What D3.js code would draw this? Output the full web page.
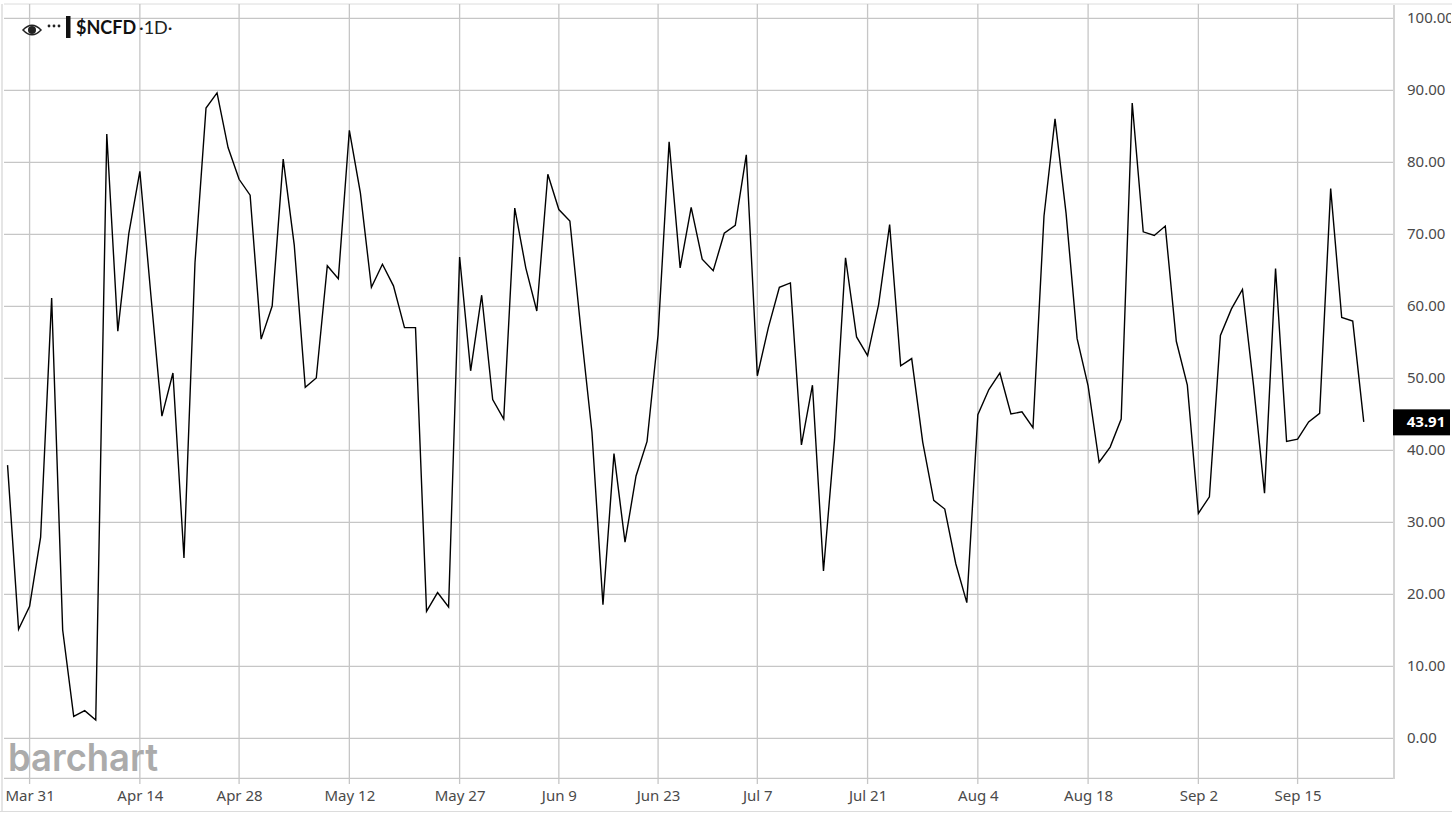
<!DOCTYPE html>
<html><head><meta charset="utf-8">
<script src="https://cdn.jsdelivr.net/npm/d3@7/dist/d3.min.js"></script>
<style>html,body{margin:0;padding:0;background:#fff;overflow:hidden}svg{display:block}</style>
</head><body><svg id="c" width="1456" height="814"></svg>
<script>
const seriesValues=[37.9,15.1,18.3,27.9,61.1,15,3,3.8,2.5,83.9,56.5,70.1,78.7,61.5,44.7,50.7,25,66,87.5,89.6,82,77.6,75.4,55.4,60,80.4,68.5,48.7,50,65.6,63.8,84.4,75.7,62.6,65.8,62.8,57,57,17.6,20.2,18.2,66.8,51,61.5,47,44.3,73.6,65.3,59.3,78.3,73.4,71.8,56.7,42.5,18.5,39.5,27.2,36.4,41.2,56,82.8,65.3,73.7,66.5,64.9,70.1,71.2,81,50.3,57,62.6,63.2,40.7,49,23.2,41.4,66.7,55.7,53.1,60.2,71.3,51.7,52.7,41.1,33,31.8,24.2,18.8,44.9,48.4,50.7,45,45.3,43.1,72.5,86,72.9,55.5,48.9,38.3,40.4,44.3,88.2,70.3,69.8,71.1,55.1,49,31.2,33.5,55.9,59.6,62.3,49,34,65.2,41.2,41.5,43.9,45.1,76.3,58.4,57.9,43.91];
const tickIndex=[2,12,21,31,41,50,59,68,78,88,98,108,117];
const tickLabels=["Mar 31","Apr 14","Apr 28","May 12","May 27","Jun 9","Jun 23","Jul 7","Jul 21","Aug 4","Aug 18","Sep 2","Sep 15"];
const yTicks=[0,10,20,30,40,50,60,70,80,90,100];
const lastValue=43.91, symbol="$NCFD", period="1D", watermark="barchart";

const svg=d3.select("#c");
const x=d3.scaleLinear().domain([2,117]).range([29.6,1297.6]);
const y=d3.scaleLinear().domain([0,100]).range([738,18]);
const gridC="#c6c6c6", axisFont="'Noto Sans','Open Sans',sans-serif", txt="#4a4a4a";
svg.append("defs").append("clipPath").attr("id","pageClip").append("rect").attr("x",0).attr("y",0).attr("width",1451).attr("height",814);

// page rules
[[4,1452,4,"#dcdcdc"],[0,1452,811.5,"#dcdcdc"]].forEach(d=>svg.append("line").attr("x1",d[0]).attr("x2",d[1]).attr("y1",d[2]).attr("y2",d[2]).attr("stroke",d[3]).attr("stroke-width",1));
svg.append("line").attr("x1",2).attr("x2",2).attr("y1",4).attr("y2",811).attr("stroke","#dcdcdc").attr("stroke-width",1.5);

// y labels
const yAxis=d3.axisRight(y).tickValues(yTicks).tickSize(0).tickPadding(13).tickFormat(d3.format(".2f"));
const gy=svg.append("g").attr("clip-path","url(#pageClip)").append("g").attr("transform","translate(1394,0)").call(yAxis);
gy.select(".domain").remove();
gy.selectAll("text").attr("font-family",axisFont).attr("font-size",15).attr("fill",txt);

// grid
svg.append("g").selectAll("line").data(yTicks).join("line")
 .attr("x1",4).attr("x2",1394).attr("y1",d=>y(d)+.3).attr("y2",d=>y(d)+.3).attr("stroke",gridC).attr("stroke-width",1.3);
svg.append("g").selectAll("line").data(tickIndex).join("line")
 .attr("x1",d=>x(d)).attr("x2",d=>x(d)).attr("y1",4).attr("y2",784).attr("stroke",gridC).attr("stroke-width",1.3);

// frame
svg.append("line").attr("x1",4).attr("x2",1394).attr("y1",778.3).attr("y2",778.3).attr("stroke",gridC).attr("stroke-width",1.3);
svg.append("line").attr("x1",1394).attr("x2",1394).attr("y1",5).attr("y2",779).attr("stroke","#d4d4d4").attr("stroke-width",2);

// x labels
const xAxis=d3.axisBottom(x).tickValues(tickIndex).tickSize(0).tickPadding(0).tickFormat((d,i)=>tickLabels[i]);
const gx=svg.append("g").attr("transform","translate(0,788)").call(xAxis);
gx.select(".domain").remove();
gx.selectAll("text").attr("font-family",axisFont).attr("font-size",15).attr("fill",txt).attr("y",2).attr("dy","0.71em");

// watermark
svg.append("text").attr("x",8).attr("y",771).text(watermark).attr("font-family","Inter,'Noto Sans',sans-serif")
 .attr("font-size",38).attr("font-weight",600).attr("fill","#ababab").attr("textLength",150).attr("lengthAdjust","spacingAndGlyphs");

// line
const line=d3.line().x((d,i)=>x(i)).y(d=>y(d));
svg.append("path").datum(seriesValues).attr("d",line).attr("fill","none").attr("stroke","#000").attr("stroke-width",1.4).attr("stroke-linejoin","miter");

// last value
const ly=y(lastValue);
svg.append("rect").attr("x",1393).attr("y",ly-12.5).attr("width",57).attr("height",26).attr("fill","#000");
svg.append("text").attr("x",1426).attr("y",ly+5.5).attr("text-anchor","middle").text(lastValue.toFixed(2))
 .attr("font-family",axisFont).attr("font-size",15).attr("font-weight",700).attr("fill","#fff");

// legend
const lg=svg.append("g");
lg.append("path").attr("d","M23 30 Q32 20.5 41 30 Q32 39.5 23 30 Z").attr("fill","#fff").attr("stroke","#222").attr("stroke-width",1.5);
lg.append("circle").attr("cx",32).attr("cy",30).attr("r",4).attr("fill","#222");
lg.selectAll(".dot").data([49,54,59]).join("circle").attr("cx",d=>d).attr("cy",26).attr("r",1.4).attr("fill","#222");
lg.append("rect").attr("x",66).attr("y",16).attr("width",4.5).attr("height",22).attr("fill","#111");
lg.append("text").attr("x",76).attr("y",34).text(symbol).attr("font-family","Lato,sans-serif").attr("font-weight",700).attr("font-size",18).attr("fill","#111");
lg.append("text").attr("x",139).attr("y",34).text("·"+period+"·").attr("font-family","Lato,sans-serif").attr("font-size",18).attr("fill","#222");
</script></body></html>
